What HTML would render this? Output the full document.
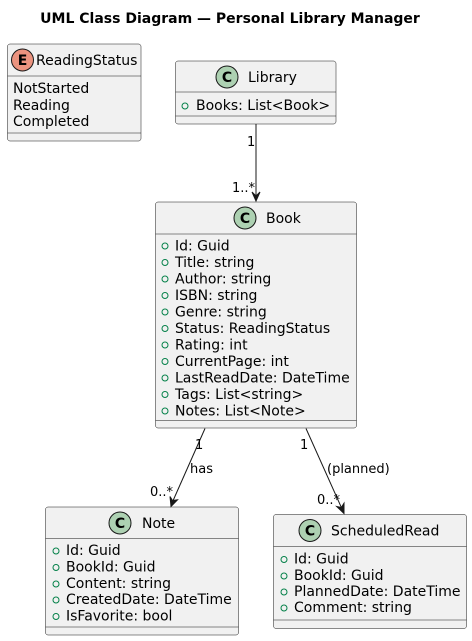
<!DOCTYPE html>
<html><head><meta charset="utf-8"><style>
html,body{margin:0;padding:0;background:#fff;}
svg{display:block;}
text{font-family:"DejaVu Sans","Liberation Sans",sans-serif;font-size:14px;fill:#000;}
.t{font-weight:bold;font-size:14px;}
.box{fill:#F1F1F1;stroke:#181818;stroke-width:0.5;}
.ln{stroke:#181818;stroke-width:0.5;}
.e{stroke:#181818;stroke-width:1;fill:none;}
.ah{fill:#181818;stroke:#181818;stroke-width:1;}
.v{fill:none;stroke:#038048;stroke-width:1;}
.s{font-size:13px;}
</style></head><body>
<svg width="472" height="641" viewBox="0 0 472 641">
<text class="t" x="230" y="23" text-anchor="middle">UML Class Diagram — Personal Library Manager</text>

<!-- ReadingStatus -->
<rect class="box" x="7.5" y="44" width="133.5" height="97" rx="2.5"/>
<circle cx="22.5" cy="60" r="11" fill="#EB937F" stroke="#181818" stroke-width="1"/>
<text x="22.5" y="65" text-anchor="middle" style="font-weight:bold;font-size:14px">E</text>
<text x="36" y="65">ReadingStatus</text>
<line class="ln" x1="7.5" y1="76" x2="141" y2="76"/>
<text x="13" y="93">NotStarted</text>
<text x="13" y="110">Reading</text>
<text x="13" y="126">Completed</text>
<line class="ln" x1="7.5" y1="133" x2="141" y2="133"/>

<!-- Library -->
<rect class="box" x="175.5" y="61" width="160.5" height="63" rx="2.5"/>
<circle cx="227" cy="77" r="11" fill="#ADD1B2" stroke="#181818" stroke-width="1"/>
<text x="227" y="82" text-anchor="middle" style="font-weight:bold;font-size:14px">C</text>
<text x="248" y="82">Library</text>
<line class="ln" x1="175.5" y1="92" x2="336" y2="92"/>
<circle class="v" cx="185" cy="106" r="3"/>
<text x="196" y="110">Books: List&lt;Book&gt;</text>
<line class="ln" x1="175.5" y1="116" x2="336" y2="116"/>

<!-- Book -->
<rect class="box" x="155.5" y="202" width="201" height="226" rx="2.5"/>
<circle cx="245" cy="218" r="11" fill="#ADD1B2" stroke="#181818" stroke-width="1"/>
<text x="245" y="223" text-anchor="middle" style="font-weight:bold;font-size:14px">C</text>
<text x="266" y="223">Book</text>
<line class="ln" x1="155.5" y1="234" x2="356.5" y2="234"/>
<g>
<circle class="v" cx="165" cy="246" r="3"/><text x="175" y="250.5">Id: Guid</text>
<circle class="v" cx="165" cy="262.5" r="3"/><text x="175" y="267">Title: string</text>
<circle class="v" cx="165" cy="279" r="3"/><text x="175" y="283.5">Author: string</text>
<circle class="v" cx="165" cy="295.5" r="3"/><text x="175" y="300">ISBN: string</text>
<circle class="v" cx="165" cy="312" r="3"/><text x="175" y="316.5">Genre: string</text>
<circle class="v" cx="165" cy="328.5" r="3"/><text x="175" y="333">Status: ReadingStatus</text>
<circle class="v" cx="165" cy="345" r="3"/><text x="175" y="349.5">Rating: int</text>
<circle class="v" cx="165" cy="361.5" r="3"/><text x="175" y="366">CurrentPage: int</text>
<circle class="v" cx="165" cy="378" r="3"/><text x="175" y="382.5">LastReadDate: DateTime</text>
<circle class="v" cx="165" cy="394.5" r="3"/><text x="175" y="399">Tags: List&lt;string&gt;</text>
<circle class="v" cx="165" cy="411" r="3"/><text x="175" y="415.5">Notes: List&lt;Note&gt;</text>
</g>
<line class="ln" x1="155.5" y1="420.5" x2="356.5" y2="420.5"/>

<!-- Note -->
<rect class="box" x="45.5" y="507" width="193" height="128" rx="2.5"/>
<circle cx="120" cy="523" r="11" fill="#ADD1B2" stroke="#181818" stroke-width="1"/>
<text x="120" y="528" text-anchor="middle" style="font-weight:bold;font-size:14px">C</text>
<text x="142" y="528">Note</text>
<line class="ln" x1="45.5" y1="538.5" x2="238.5" y2="538.5"/>
<circle class="v" cx="56" cy="551" r="3"/><text x="66" y="555">Id: Guid</text>
<circle class="v" cx="56" cy="567.5" r="3"/><text x="66" y="571.5">BookId: Guid</text>
<circle class="v" cx="56" cy="584" r="3"/><text x="66" y="588">Content: string</text>
<circle class="v" cx="56" cy="600" r="3"/><text x="66" y="604">CreatedDate: DateTime</text>
<circle class="v" cx="56" cy="616.5" r="3"/><text x="66" y="620.5">IsFavorite: bool</text>
<line class="ln" x1="45.5" y1="627" x2="238.5" y2="627"/>

<!-- ScheduledRead -->
<rect class="box" x="273.5" y="514.5" width="193" height="114" rx="2.5"/>
<circle cx="310" cy="530.5" r="11" fill="#ADD1B2" stroke="#181818" stroke-width="1"/>
<text x="310" y="535.5" text-anchor="middle" style="font-weight:bold;font-size:14px">C</text>
<text x="331" y="535.5">ScheduledRead</text>
<line class="ln" x1="273.5" y1="546.5" x2="466.5" y2="546.5"/>
<circle class="v" cx="284" cy="559.5" r="3"/><text x="294" y="563.5">Id: Guid</text>
<circle class="v" cx="284" cy="576" r="3"/><text x="294" y="580">BookId: Guid</text>
<circle class="v" cx="284" cy="592" r="3"/><text x="294" y="596">PlannedDate: DateTime</text>
<circle class="v" cx="284" cy="608" r="3"/><text x="294" y="612">Comment: string</text>
<line class="ln" x1="273.5" y1="620" x2="466.5" y2="620"/>

<!-- Edges -->
<line class="e" x1="256" y1="124" x2="256" y2="198"/>
<polygon class="ah" points="256,201 252,192 256,196 260,192"/>
<text class="s" x="247" y="146">1</text>
<text class="s" x="232" y="192">1..*</text>

<line class="e" x1="205" y1="428.5" x2="172" y2="503"/>
<polygon class="ah" points="171,506.5 170,496.5 172.5,500.5 177.5,499.8"/>
<text class="s" x="195" y="449">1</text>
<text class="s" x="190" y="473">has</text>
<text class="s" x="150" y="496">0..*</text>

<line class="e" x1="306" y1="428.5" x2="342.5" y2="510"/>
<polygon class="ah" points="344,513.5 336.7,506.5 341.3,507.5 344,503.2"/>
<text class="s" x="300" y="449">1</text>
<text class="s" x="327" y="473">(planned)</text>
<text class="s" x="317" y="504">0..*</text>
</svg>
</body></html>
